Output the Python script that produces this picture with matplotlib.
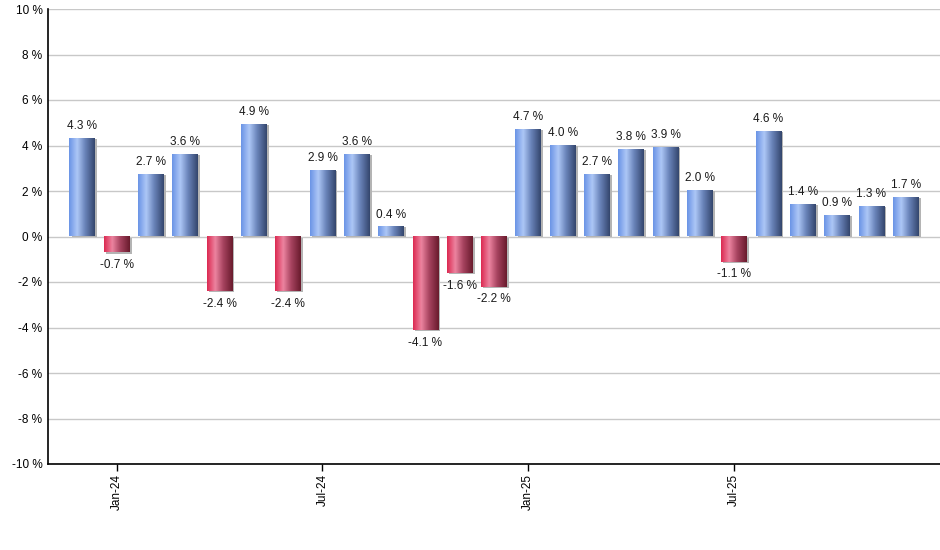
import matplotlib
matplotlib.use("Agg")
import matplotlib.pyplot as plt
import numpy as np
from matplotlib.colors import LinearSegmentedColormap
from matplotlib.patches import Rectangle

months = ["Dec-23", "Jan-24", "Feb-24", "Mar-24", "Apr-24", "May-24", "Jun-24",
          "Jul-24", "Aug-24", "Sep-24", "Oct-24", "Nov-24", "Dec-24",
          "Jan-25", "Feb-25", "Mar-25", "Apr-25", "May-25", "Jun-25",
          "Jul-25", "Aug-25", "Sep-25", "Oct-25", "Nov-25", "Dec-25"]
values = [4.3, -0.7, 2.7, 3.6, -2.4, 4.9, -2.4, 2.9, 3.6, 0.4, -4.1, -1.6, -2.2,
          4.7, 4.0, 2.7, 3.8, 3.9, 2.0, -1.1, 4.6, 1.4, 0.9, 1.3, 1.7]
tick_labels = ["Jan-24", "Jul-24", "Jan-25", "Jul-25"]
yticks = [-10, -8, -6, -4, -2, 0, 2, 4, 6, 8, 10]

plt.rcParams['font.family'] = ['Liberation Sans', 'DejaVu Sans']

fig = plt.figure(figsize=(9.4, 5.5), dpi=100)
ax = fig.add_axes([48/940, 1 - 464/550, (940-48)/940, (464-9)/550])

blue_cmap = LinearSegmentedColormap.from_list(
    "b", [(0, "#6a93e6"), (0.32, "#adc7f6"), (0.62, "#6a84ba"), (1, "#33456c")])
red_cmap = LinearSegmentedColormap.from_list(
    "r", [(0, "#dc2850"), (0.32, "#ec84a0"), (0.62, "#a84460"), (1, "#681a2c")])
grad = np.linspace(0, 1, 256).reshape(1, -1)

width = 0.75
x = np.arange(len(values))

for xi, v in zip(x, values):
    # shadow
    ax.add_patch(Rectangle((xi - width/2 + 0.06, min(0, v) - (0.06 if v < 0 else 0)),
                           width, abs(v), facecolor="#b4b4b4", edgecolor="none", zorder=2))
    cmap = blue_cmap if v >= 0 else red_cmap
    ax.imshow(grad, cmap=cmap, aspect='auto', interpolation='bilinear',
              extent=(xi - width/2, xi + width/2, min(0, v), max(0, v)), zorder=3)
    lab = f"{v:.1f} %"
    if v >= 0:
        ax.text(xi, v + 0.3, lab, ha='center', va='bottom', fontsize=8.5, color="#1a1a1a", zorder=4)
    else:
        ax.text(xi, v - 0.3, lab, ha='center', va='top', fontsize=8.5, color="#1a1a1a", zorder=4)

ax.set_xlim(-1.0, 25.0)
ax.set_ylim(-10, 10)
ax.set_yticks(yticks)
ax.set_yticklabels([f"{t} %" for t in yticks], fontsize=8.5)
ax.yaxis.grid(True, color="#c8c8c8", linewidth=1)
ax.set_axisbelow(True)

tick_pos = [months.index(t) for t in tick_labels]
ax.set_xticks(tick_pos)
ax.set_xticklabels(tick_labels, rotation=90, fontsize=8.5)
ax.tick_params(axis='x', length=5, width=1, color="black", pad=2)
ax.tick_params(axis='y', length=0, pad=4)

for s in ["top", "right"]:
    ax.spines[s].set_visible(False)
ax.spines["left"].set_color("black")
ax.spines["bottom"].set_color("black")
ax.spines["left"].set_linewidth(1.2)
ax.spines["bottom"].set_linewidth(1.2)

fig.savefig("out.png", dpi=100)
